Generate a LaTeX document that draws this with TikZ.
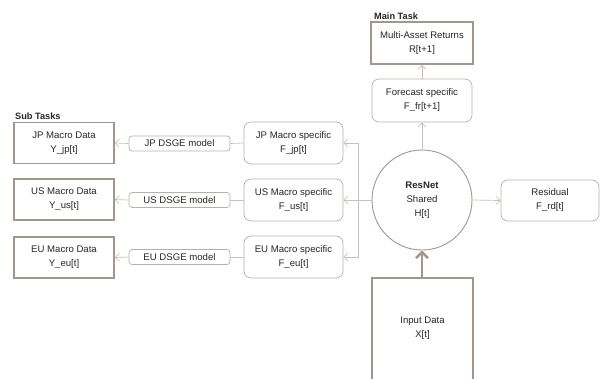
\documentclass[tikz,border=0pt]{standalone}
\usepackage{fontspec}
\setmainfont{Liberation Sans}
\usetikzlibrary{arrows.meta}
\definecolor{edge}{HTML}{A1978E}
\definecolor{wire}{HTML}{C9C1B9}
\definecolor{ink}{HTML}{262626}
\tikzset{
  every node/.style={font=\fontsize{9.6}{14}\selectfont, text=ink, align=center},
  databox/.style={draw=edge, line width=1.6pt, minimum width=100pt, minimum height=41pt, inner sep=0pt},
  specbox/.style={draw=edge!75, line width=0.7pt, rounded corners=7pt, minimum width=99pt, minimum height=42pt, inner sep=0pt},
  modelbox/.style={draw=edge!75, line width=0.7pt, rounded corners=3pt, minimum width=101pt, minimum height=15pt, inner sep=0pt},
  tag/.style={font=\fontsize{9.2}{11}\selectfont\bfseries, anchor=west, inner sep=0pt},
  link/.style={draw=wire, line width=0.7pt},
  flow/.style={link, -{Straight Barb[length=4pt, width=8pt]}},
}
\begin{document}
\begin{tikzpicture}[x=1pt, y=-1pt]
\useasboundingbox (0,0) rectangle (600,378);

% sub-task targets
\node[databox] (jpD) at (64,143) {JP Macro Data\\Y\_jp[t]};
\node[databox] (usD) at (64,199.5) {US Macro Data\\Y\_us[t]};
\node[databox] (euD) at (64,257.5) {EU Macro Data\\Y\_eu[t]};
\node[tag] (subT) at (15,116) {Sub Tasks};

% DSGE model labels
\node[modelbox] (jpM) at (179.5,143.5) {JP DSGE model};
\node[modelbox] (usM) at (179.5,200) {US DSGE model};
\node[modelbox] (euM) at (179.5,257) {EU DSGE model};

% task-specific heads
\node[specbox] (jpS) at (293.5,143) {JP Macro specific\\F\_jp[t]};
\node[specbox] (usS) at (293.5,200) {US Macro specific\\F\_us[t]};
\node[specbox] (euS) at (293.5,257) {EU Macro specific\\F\_eu[t]};

% shared trunk
\node[circle, draw=edge, line width=0.9pt, minimum size=100pt, inner sep=0pt] (hub) at (422,200)
  {\textbf{ResNet}\\Shared\\H[t]};

% main task
\node[databox, minimum width=102pt, minimum height=42pt] (ret) at (422,43) {Multi-Asset Returns\\R[t+1]};
\node[tag] (mainT) at (374,16) {Main Task};
\node[specbox, minimum width=100pt, minimum height=43pt] (fc) at (422,100.5) {Forecast specific\\F\_fr[t+1]};

% residual head
\node[specbox, minimum width=98pt, minimum height=41pt] (rd) at (550,200.5) {Residual\\F\_rd[t]};

% input data, running past the lower edge
\node[minimum width=101pt, minimum height=100pt, inner sep=0pt] (inp) at (422.5,328) {Input Data\\X[t]};
\draw[edge, line width=1.6pt] (372,380) -- (372,278) -- (473,278) -- (473,380);
\coordinate (inTop) at (422,278);

% connectors
\draw[flow] (hub.north) -- (fc.south);
\draw[flow] (fc.north) -- (ret.south);
\draw[flow] (hub.east) -- (rd.west);
\draw[edge, line width=2.4pt, -{Straight Barb[length=6pt, width=12pt]}] (inTop) -- (hub.south);

\coordinate (bus) at (358,200);
\draw[link] (hub.west) -- (bus);
\draw[flow] (bus) -- (usS.east);
\draw[flow] (bus) |- (jpS.east);
\draw[flow] (bus) |- (euS.east);

\draw[link] (jpS.west) -- (jpM.east);
\draw[link] (usS.west) -- (usM.east);
\draw[link] (euS.west) -- (euM.east);
\draw[flow] (jpM.west) -- (jpD.east);
\draw[flow] (usM.west) -- (usD.east);
\draw[flow] (euM.west) -- (euD.east);
\end{tikzpicture}
\end{document}
